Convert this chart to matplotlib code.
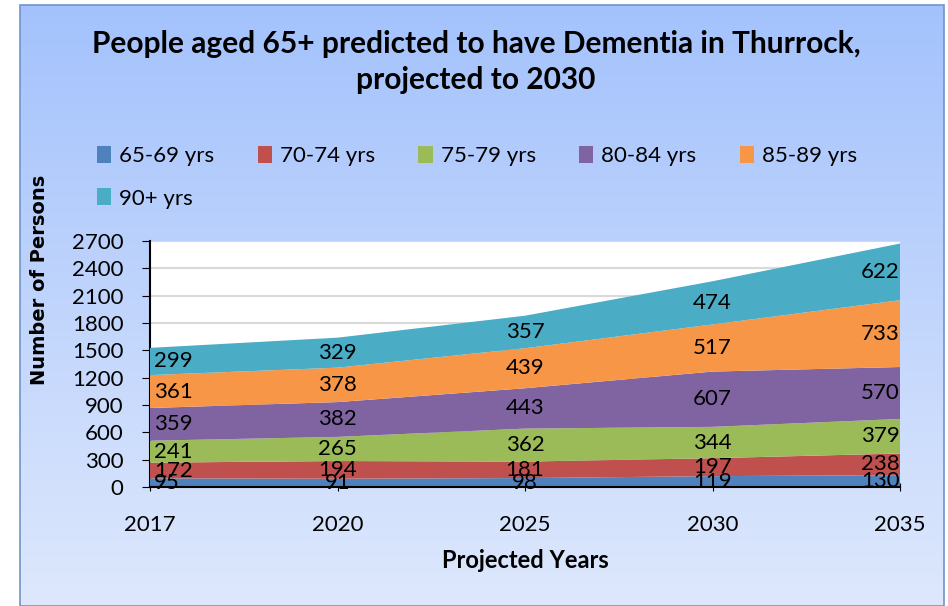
import numpy as np
import matplotlib.pyplot as plt
from matplotlib.patches import Rectangle

# Data
years = ["2017", "2020", "2025", "2030", "2035"]
age_groups = ["65-69 yrs", "70-74 yrs", "75-79 yrs", "80-84 yrs", "85-89 yrs", "90+ yrs"]
age_65_69 = [95, 91, 98, 119, 130]
age_70_74 = [172, 194, 181, 197, 238]
age_75_79 = [241, 265, 362, 344, 379]
age_80_84 = [359, 382, 443, 607, 570]
age_85_89 = [361, 378, 439, 517, 733]
age_90_plus = [299, 329, 357, 474, 622]
colors = ["#4F81BD", "#C0504D", "#9BBB59", "#8064A2", "#F79646", "#4BACC6"]

series = [age_65_69, age_70_74, age_75_79, age_80_84, age_85_89, age_90_plus]

plt.rcParams['font.family'] = ['Lato', 'DejaVu Sans']

fig = plt.figure(figsize=(9.48, 6.06), dpi=100)
fig.patch.set_facecolor("white")

# Gradient background for the chart area
bg = fig.add_axes([0, 0, 1, 1], zorder=-10)
grad = np.linspace(0, 1, 256).reshape(-1, 1)
top = np.array([0.64, 0.76, 0.99])
bottom = np.array([0.87, 0.91, 0.99])
img = top + (bottom - top) * grad[:, :, None]
bg.imshow(img, aspect="auto", extent=[20 / 948, 944 / 948, 0, 1 - 5 / 606], origin="upper")
bg.add_patch(Rectangle((20 / 948, 0), 924 / 948, 1 - 5 / 606, fill=False,
                       edgecolor="#6f95c9", linewidth=1.2))
bg.set_xlim(0, 1)
bg.set_ylim(0, 1)
bg.axis("off")

ax = fig.add_axes([150 / 948, 1 - 487 / 606, 750 / 948, 246 / 606])
ax.set_facecolor("white")
x = np.arange(len(years))
ax.stackplot(x, *series, colors=colors, labels=age_groups, zorder=3)

# Data labels at the middle of each band
base = np.zeros(len(years))
for vals in series:
    v = np.array(vals)
    for i in range(len(years)):
        ha = "left" if i == 0 else ("right" if i == len(years) - 1 else "center")
        xi = x[i] + (0.02 if i == 0 else 0)
        ax.text(xi, base[i] + v[i] / 2, str(v[i]), ha=ha, va="center",
                fontsize=16, color="black", zorder=5)
    base += v

ax.set_xlim(0, len(years) - 1)
ax.set_ylim(0, 2700)
ax.set_yticks(np.arange(0, 2701, 300))
ax.set_xticks(x)
ax.set_xticklabels(years)
ax.tick_params(axis="y", labelsize=16, length=6, direction="out", pad=13)
ax.tick_params(axis="x", labelsize=16, length=6, direction="inout", pad=17)
ax.grid(axis="y", color="#d9d9d9", linewidth=1.5, zorder=1)
ax.set_axisbelow(True)
for s in ["top", "right"]:
    ax.spines[s].set_visible(False)
ax.spines["left"].set_linewidth(1.5)
ax.spines["bottom"].set_linewidth(1.5)
ax.spines["bottom"].set_zorder(6)

ax.set_xlabel("Projected Years", fontsize=17, fontweight="bold", labelpad=10)
fig.text(40 / 948, 1 - 280 / 606, "Number of Persons", rotation=90, fontsize=14,
         fontweight="bold", family="DejaVu Sans", ha="center", va="center")

fig.text(476 / 948, 1 - 44 / 606, "People aged 65+ predicted to have Dementia in Thurrock,",
         fontsize=21.5, fontweight="bold", ha="center", va="center")
fig.text(476 / 948, 1 - 80 / 606, "projected to 2030",
         fontsize=21.5, fontweight="bold", ha="center", va="center")

# Legend filled row by row: 5 in the first row, 1 in the second
handles, labels = ax.get_legend_handles_labels()
order = [0, 5, 1, 2, 3, 4]
fig.legend([handles[k] for k in order], [labels[k] for k in order],
           loc="upper left", bbox_to_anchor=(77 / 948, 1 - 126 / 606),
           ncol=5, frameon=False, fontsize=16, handlelength=0.65, handleheight=0.8,
           handletextpad=0.35, columnspacing=1.95, labelspacing=1.0)

plt.savefig("out.png", dpi=100)
